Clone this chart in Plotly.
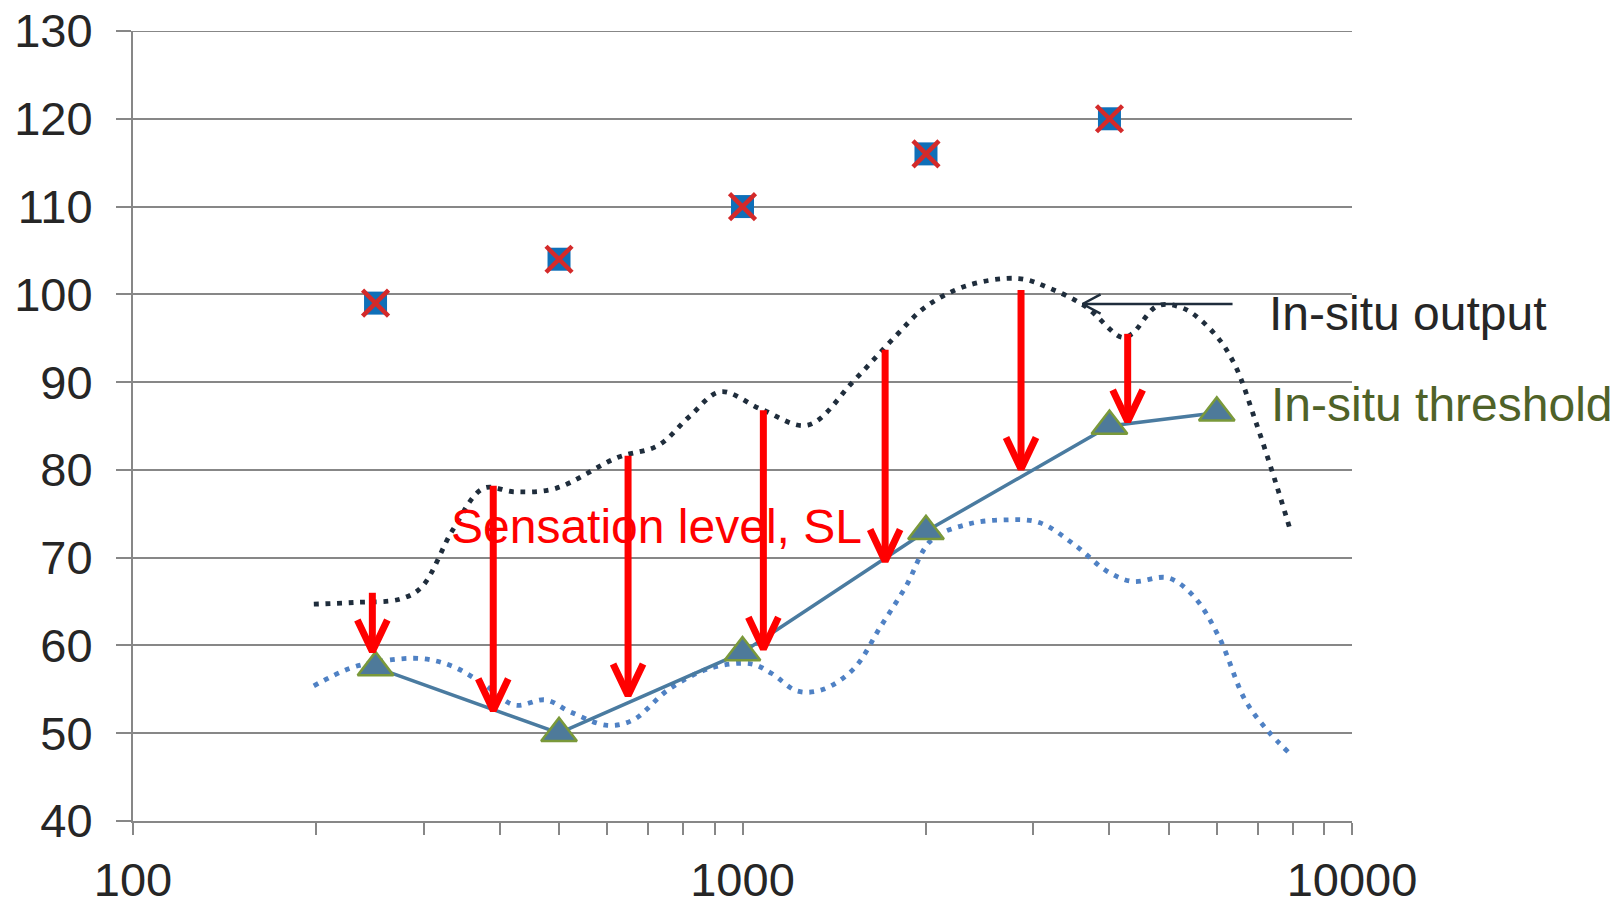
import plotly.graph_objects as go
import math

# ---------------- data ----------------
# Maximum output (squares with x)
max_freq = [250, 500, 1000, 2000, 4000]
max_level = [99, 104, 110, 116, 120]

# In-situ threshold (triangles, solid line)
thr_freq = [250, 500, 1000, 2000, 4000, 6000]
thr_level = [57.5, 50, 59.2, 73, 85, 86.5]

# In-situ output (dark dotted curve)
out_freq = [198, 231, 275, 298, 335, 376, 423, 494, 623, 728, 819, 920, 1074, 1280,
            1525, 1781, 2000, 2338, 2840, 3190, 3656, 4190, 4356, 4800, 5290, 5950,
            6430, 6950, 7500, 7900]
out_level = [64.7, 64.9, 65.3, 66.7, 73.2, 77.9, 77.5, 77.9, 81.4, 82.8, 86.1, 88.9,
             86.9, 85.1, 90.2, 95.2, 98.6, 101.0, 101.8, 100.7, 98.6, 95.1, 95.5, 98.7,
             98.4, 95.5, 91.9, 85.5, 78.5, 73.4]

# Lower blue dotted curve
low_freq = [198, 227, 255, 298, 335, 376, 423, 475, 523, 600, 661, 757, 885, 1033,
            1117, 1231, 1357, 1525, 1680, 1853, 2041, 2338, 2681, 3069, 3516, 3953,
            4356, 4990, 5500, 6056, 6676, 7270, 7900]
low_level = [55.4, 57.4, 58.2, 58.5, 57.6, 55.6, 53.2, 53.8, 52.4, 50.9, 51.5, 55.0,
             57.4, 57.9, 56.8, 54.8, 55.0, 57.4, 62.0, 66.7, 72.0, 73.8, 74.3, 74.0,
             71.4, 68.5, 67.3, 67.7, 65.6, 60.9, 53.8, 50.3, 47.7]

# Sensation-level arrows: frequency, top level, tip level
sl_freq = [247, 390, 649, 1082, 1714, 2864, 4285]
sl_top = [66.0, 78.2, 81.6, 86.8, 93.7, 100.5, 95.5]
sl_tip = [59.3, 52.6, 54.3, 59.6, 69.6, 80.1, 85.5]

# Pointer arrow for the "In-situ output" label
ptr_from = 6368
ptr_to = 3614
ptr_level = 98.9

x_tickvals = [100, 200, 300, 400, 500, 600, 700, 800, 900,
              1000, 2000, 3000, 4000, 5000, 6000, 7000, 8000, 9000, 10000]
x_ticktext = ["100", "", "", "", "", "", "", "", "",
              "1000", "", "", "", "", "", "", "", "", "10000"]
y_tickvals = [40, 50, 60, 70, 80, 90, 100, 110, 120, 130]

FONT = "Liberation Sans, Arial, sans-serif"
GRID = "#878787"

fig = go.Figure()

# top gridline (plotly hides the grid line on the plot edge)
fig.add_shape(type="line", xref="paper", yref="y", x0=0, x1=1, y0=130, y1=130,
              line=dict(color=GRID, width=2), layer="below")

fig.add_trace(go.Scatter(x=low_freq, y=low_level, mode="lines", line_shape="spline",
                         line=dict(color="#4F81C4", width=4.8, dash="4.8px,6.8px"),
                         showlegend=False, hoverinfo="skip"))
fig.add_trace(go.Scatter(x=out_freq, y=out_level, mode="lines", line_shape="spline",
                         line=dict(color="#1F2D3C", width=4.8, dash="4.8px,6.8px"),
                         showlegend=False, hoverinfo="skip"))

fig.add_trace(go.Scatter(x=thr_freq, y=thr_level, mode="lines+markers",
                         line=dict(color="#4A7BA0", width=3.5),
                         marker=dict(symbol="triangle-up", size=31, color="#4E7A9A",
                                     line=dict(color="#7A993A", width=2.5)),
                         showlegend=False, hoverinfo="skip"))

fig.add_trace(go.Scatter(x=max_freq, y=max_level, mode="markers",
                         marker=dict(symbol="square", size=23, color="#0F6FB8"),
                         showlegend=False, hoverinfo="skip"))
fig.add_trace(go.Scatter(x=max_freq, y=max_level, mode="markers",
                         marker=dict(symbol="x-thin", size=26,
                                     line=dict(color="#D42A2A", width=4.5)),
                         showlegend=False, hoverinfo="skip"))

# red sensation-level arrows
head_k = 10 ** (15 / 609.8)  # half width of chevron in log space
head_h = 3.6                 # chevron height in dB
for f, top, tip in zip(sl_freq, sl_top, sl_tip):
    fig.add_trace(go.Scatter(
        x=[f, f, None, f / head_k, f, f * head_k],
        y=[top, tip + 0.6, None, tip + head_h, tip, tip + head_h],
        mode="lines", line=dict(color="#FF0000", width=7),
        showlegend=False, hoverinfo="skip"))

# black pointer arrow
pk = 10 ** (18 / 609.8)
fig.add_trace(go.Scatter(
    x=[ptr_from, ptr_to, None, ptr_to * pk, ptr_to, ptr_to * pk],
    y=[ptr_level, ptr_level, None, ptr_level + 1.1, ptr_level, ptr_level - 1.1],
    mode="lines", line=dict(color="#1F2D3C", width=2.5),
    showlegend=False, hoverinfo="skip"))

fig.add_annotation(x=2.859, y=73.5, xref="x", yref="y", text="Sensation level, SL",
                   showarrow=False, font=dict(family=FONT, size=48, color="#FF0000"),
                   xanchor="center", yanchor="middle")
fig.add_annotation(x=3.861, y=97.8, xref="x", yref="y", text="In-situ output",
                   showarrow=False, font=dict(family=FONT, size=48, color="#262626"),
                   xanchor="left", yanchor="middle")
fig.add_annotation(x=3.864, y=87.4, xref="x", yref="y", text="In-situ threshold",
                   showarrow=False, font=dict(family=FONT, size=48, color="#4F6228"),
                   xanchor="left", yanchor="middle")

fig.update_layout(
    width=1614, height=901,
    margin=dict(l=133, r=262, t=31, b=80, autoexpand=False),
    paper_bgcolor="white", plot_bgcolor="white",
    font=dict(family=FONT, size=47, color="#262626"),
)
fig.update_xaxes(type="log", range=[2, 4], tickvals=x_tickvals, ticktext=x_ticktext,
                 ticks="outside", ticklen=12, tickwidth=2, tickcolor=GRID,
                 showline=True, linecolor=GRID, linewidth=2, automargin=False,
                 showgrid=False, zeroline=False, ticklabelstandoff=5,
                 tickfont=dict(family=FONT, size=47, color="#262626"))
fig.update_yaxes(range=[40, 130], tickvals=y_tickvals,
                 ticks="outside", ticklen=15, tickwidth=2, tickcolor=GRID,
                 showline=True, linecolor=GRID, linewidth=2, automargin=False,
                 showgrid=True, gridcolor=GRID, gridwidth=2, zeroline=False,
                 ticklabelstandoff=14,
                 tickfont=dict(family=FONT, size=47, color="#262626"))

fig.write_html("out.html")
